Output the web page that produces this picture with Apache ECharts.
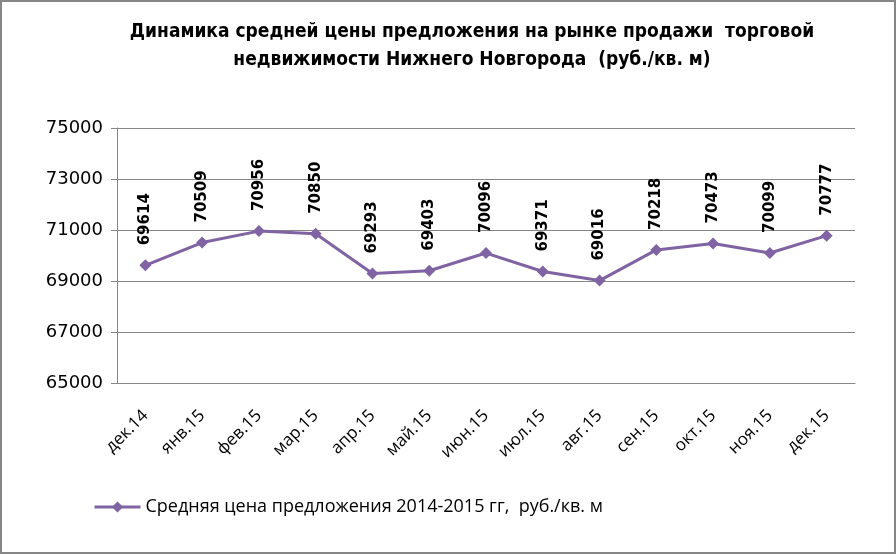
<!DOCTYPE html>
<html><head><meta charset="utf-8">
<script src="https://cdn.jsdelivr.net/npm/echarts@6/dist/echarts.min.js"></script>
<style>html,body{margin:0;padding:0;background:#fff}#c{width:896px;height:554px;box-sizing:border-box;border:2px solid #868686}</style>
</head><body><div id="c"></div>
<script>
const categories = ['дек.14','янв.15','фев.15','мар.15','апр.15','май.15','июн.15','июл.15','авг.15','сен.15','окт.15','ноя.15','дек.15'];
const prices = [69614,70509,70956,70850,69293,69403,70096,69371,69016,70218,70473,70099,70777];
const seriesName = 'Средняя цена предложения 2014-2015 гг,  руб./кв. м';
const titleText = 'Динамика средней цены предложения на рынке продажи  торговой\nнедвижимости Нижнего Новгорода  (руб./кв. м)';

const chart = echarts.init(document.getElementById('c'));
chart.setOption({
  animation:false,
  title:{text:titleText,left:465,top:11,textAlign:'center',
    textStyle:{fontFamily:'DejaVu Sans Condensed',fontWeight:'bold',fontSize:19,lineHeight:28,color:'#000'}},
  legend:{left:86,top:491,itemWidth:46,itemHeight:14,itemGap:4,
    lineStyle:{width:3},
    textStyle:{fontFamily:'Open Sans',fontSize:18,color:'#000'},
    data:[seriesName]},
  grid:{left:115,right:39,top:126,bottom:169,containLabel:false},
  xAxis:{type:'category',data:categories,boundaryGap:true,
    axisLine:{lineStyle:{color:'#868686'}},
    axisTick:{length:6,lineStyle:{color:'#868686'}},
    axisLabel:{rotate:45,color:'#000',fontFamily:'Open Sans',fontSize:17,margin:30}},
  yAxis:{type:'value',min:65000,max:75000,interval:2000,
    axisLine:{show:true,lineStyle:{color:'#868686'}},
    axisTick:{show:true,length:6,lineStyle:{color:'#868686'}},
    splitLine:{lineStyle:{color:'#868686'}},
    axisLabel:{color:'#000',fontFamily:'DejaVu Sans',fontSize:18,margin:14,formatter:v=>String(v)}},
  series:[{name:seriesName,type:'line',data:prices,
    symbol:'diamond',symbolSize:12,
    lineStyle:{color:'#7f63a2',width:3},
    itemStyle:{color:'#7f63a2'},
    label:{show:true,position:'top',rotate:90,align:'left',verticalAlign:'middle',distance:14,
      fontFamily:'DejaVu Sans',fontSize:15,fontWeight:'bold',color:'#000'}}]
});
</script></body></html>
